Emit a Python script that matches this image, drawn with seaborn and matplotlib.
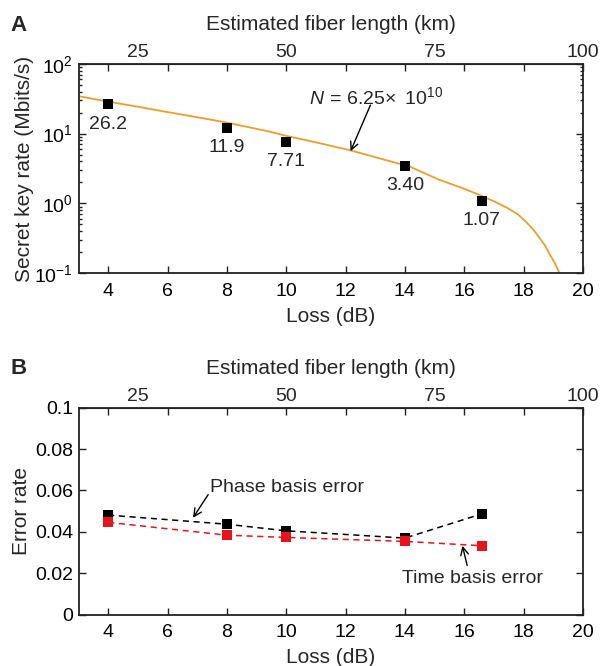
import numpy as np
import pandas as pd
import matplotlib
matplotlib.use('Agg')
import matplotlib.pyplot as plt
import seaborn as sns

# measured secret key rate (Mbits/s)
loss_pts = [4, 8, 10, 14, 16.6]
key_rate = [26.2, 11.9, 7.71, 3.40, 1.07]
key_labels = ['26.2', '11.9', '7.71', '3.40', '1.07']

# theory curve, N = 6.25e10
curve_loss = [3, 4, 5, 6, 7, 8, 9.44, 10, 11, 12.14, 13, 14.16, 15.17, 16.0, 16.57,
              17.0, 17.41, 17.8, 18.09, 18.35, 18.54, 18.72, 18.87, 19.05, 19.21]
curve_rate = [34.5, 28.8, 24.3, 20.4, 17.2, 14.4, 10.7, 9.3, 7.5, 5.8, 4.6, 3.37, 2.17, 1.62, 1.29,
              1.07, 0.88, 0.70, 0.54, 0.41, 0.32, 0.25, 0.19, 0.14, 0.1]

# error rates
phase_err = [0.0481, 0.0437, 0.0405, 0.0370, 0.0487]
time_err = [0.0446, 0.0384, 0.0373, 0.0354, 0.0333]

km_per_db = 5.0  # 0.2 dB/km

sns.set_style('ticks')
plt.rcParams['font.family'] = ['Liberation Sans', 'DejaVu Sans']
plt.rcParams['font.size'] = 14
plt.rcParams['mathtext.fontset'] = 'custom'
plt.rcParams['mathtext.rm'] = 'Liberation Sans'
plt.rcParams['mathtext.it'] = 'Liberation Sans:italic'

fig = plt.figure(figsize=(6.04, 6.66), dpi=100)
axA = fig.add_axes([0.130, 0.590, 0.835, 0.314])
axB = fig.add_axes([0.130, 0.077, 0.835, 0.311])

arrow_kw = dict(arrowstyle='->', color='black', lw=1.0, shrinkA=0, shrinkB=0)


def style_axes(ax):
    for s in ax.spines.values():
        s.set_linewidth(1.3)
        s.set_color('#222222')
    ax.tick_params(which='both', direction='in', top=True, right=True,
                   labelsize=14, width=1.0, colors='#222222', labelcolor='black')
    ax.tick_params(which='major', length=5, pad=7)
    ax.tick_params(axis='y', which='major', pad=4)
    ax.tick_params(which='minor', length=2.5)
    ax.set_xlim(3, 20)
    ax.set_xticks([4, 6, 8, 10, 12, 14, 16, 18, 20])
    ax.set_xlabel('Loss (dB)', fontsize=15, labelpad=5)
    sec = ax.secondary_xaxis('top', functions=(lambda l: l * km_per_db, lambda k: k / km_per_db))
    sec.set_xticks([25, 50, 75, 100])
    sec.tick_params(length=0, labelsize=14, pad=2)
    sec.set_xlabel('Estimated fiber length (km)', fontsize=15, labelpad=10)
    return sec


# ---- panel A ----
dfc = pd.DataFrame({'loss': curve_loss, 'rate': curve_rate})
sns.lineplot(data=dfc, x='loss', y='rate', ax=axA, color='#E8A02A', lw=1.3)
dfp = pd.DataFrame({'loss': loss_pts, 'rate': key_rate})
sns.scatterplot(data=dfp, x='loss', y='rate', ax=axA, marker='s', s=50, color='black',
                edgecolor='black', linewidth=0, zorder=5)
axA.set_yscale('log')
axA.set_ylim(0.1, 100)
style_axes(axA)
axA.set_ylabel('Secret key rate (Mbits/s)', fontsize=15, labelpad=0)
for xv, yv, t in zip(loss_pts, key_rate, key_labels):
    axA.annotate(t, (xv, yv), xytext=(0, -8), textcoords='offset points',
                 ha='center', va='top', fontsize=14)
axA.text(10.76, 33.7, r'$N\,=\,6.25\!\times\ 10^{10}$', ha='left', va='center', fontsize=14)
axA.annotate('', xy=(12.17, 5.6), xytext=(12.84, 25.7), arrowprops=arrow_kw)
fig.text(0.018, 0.962, 'A', fontsize=16, fontweight='bold', va='center')

# ---- panel B ----
dfe = pd.DataFrame({'loss': loss_pts * 2,
                    'err': phase_err + time_err,
                    'kind': ['Phase'] * 5 + ['Time'] * 5})
sns.lineplot(data=dfe, x='loss', y='err', hue='kind', ax=axB,
             palette={'Phase': 'black', 'Time': '#E8141B'},
             hue_order=['Phase', 'Time'], marker='s', markersize=6.5,
             markeredgewidth=0, lw=1.1, legend=False)
for ln in axB.get_lines():
    ln.set_linestyle((0, (4, 3)))
axB.set_ylim(0, 0.1)
axB.set_yticks([0, 0.02, 0.04, 0.06, 0.08, 0.1])
axB.set_yticklabels(['0', '0.02', '0.04', '0.06', '0.08', '0.1'])
style_axes(axB)
axB.set_ylabel('Error rate', fontsize=15, labelpad=3)
axB.text(7.44, 0.0616, 'Phase basis error', ha='left', va='center', fontsize=14)
axB.annotate('', xy=(6.86, 0.0468), xytext=(7.37, 0.058), arrowprops=arrow_kw)
axB.text(13.9, 0.0175, 'Time basis error', ha='left', va='center', fontsize=14)
axB.annotate('', xy=(15.94, 0.0333), xytext=(16.1, 0.0238), arrowprops=arrow_kw)
fig.text(0.018, 0.447, 'B', fontsize=16, fontweight='bold', va='center')

fig.savefig('out.png', dpi=100)
